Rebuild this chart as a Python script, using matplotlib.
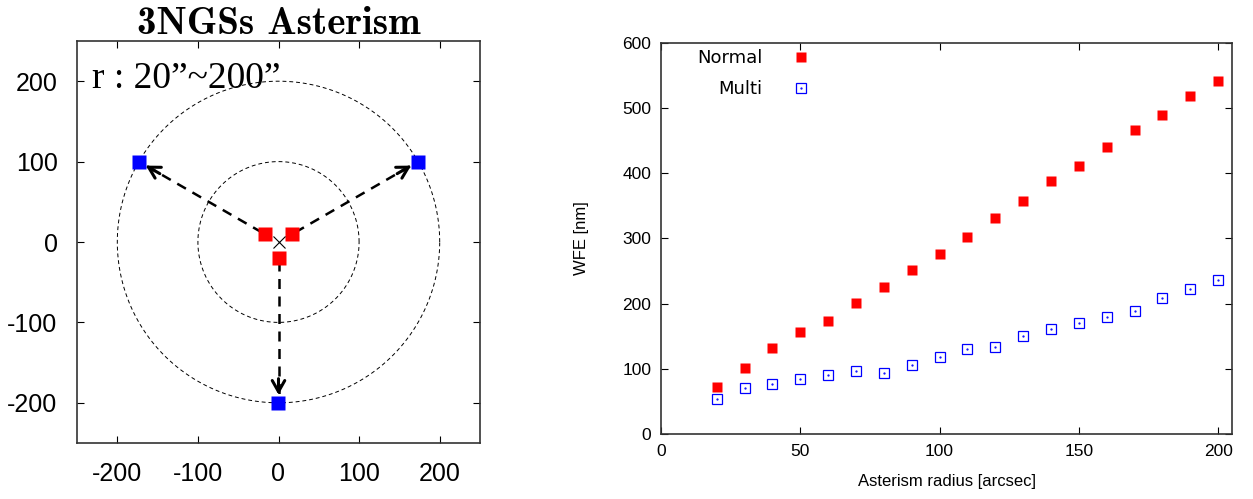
import numpy as np
import matplotlib
matplotlib.use("Agg")
import matplotlib.pyplot as plt
from matplotlib.legend_handler import HandlerTuple

plt.rcParams["font.family"] = ["Liberation Sans", "DejaVu Sans"]
plt.rcParams["axes.unicode_minus"] = False

# left panel: asterism geometry
ngs_angles = [150, 30, 270]          # deg
inner_r = 20
outer_r = 200
circle_radii = [100, 200]

# right panel: WFE vs asterism radius
radius = [20, 30, 40, 50, 60, 70, 80, 90, 100, 110, 120, 130, 140, 150,
          160, 170, 180, 190, 200]
wfe_normal = [72, 102, 132, 156, 173, 201, 225, 251, 276, 303, 332, 358,
              388, 412, 441, 467, 490, 519, 542]
wfe_multi = [54, 70, 76, 85, 90, 96, 94, 106, 118, 130, 134, 150, 161,
             171, 179, 189, 209, 222, 236]

fig = plt.figure(figsize=(12.53, 4.99), dpi=100)

# ---- left panel
ax = fig.add_axes([77 / 1253, 56 / 499, 403 / 1253, 402 / 499])
th = np.linspace(0, 2 * np.pi, 400)
for r in circle_radii:
    ax.plot(r * np.cos(th), r * np.sin(th), "--", color="k", lw=0.7,
            dashes=(4, 3))
ang = np.deg2rad(ngs_angles)
x_in, y_in = inner_r * np.cos(ang), inner_r * np.sin(ang)
x_out, y_out = outer_r * np.cos(ang), outer_r * np.sin(ang)
for xi, yi, xo, yo in zip(x_in, y_in, x_out, y_out):
    # dashed shaft, solid open head
    ax.plot([xi * 1.2, xo * 0.95], [yi * 1.2, yo * 0.95], color="k", lw=1.8,
            dashes=(4, 3))
    ax.annotate("", xy=(xo * 0.95, yo * 0.95), xytext=(xo * 0.85, yo * 0.85),
                arrowprops=dict(arrowstyle="->,head_length=0.8,head_width=0.45",
                                lw=2.2, color="k", shrinkA=0, shrinkB=0))
ax.plot(x_in, y_in, "s", color="red", ms=9.5, mec="none")
ax.plot(x_out, y_out, "s", color="blue", ms=9.5, mec="none")
ax.plot([0], [0], "x", color="k", ms=8, mew=0.8)
ax.set_xlim(-250, 250)
ax.set_ylim(-250, 250)
ax.set_xticks([-200, -100, 0, 100, 200])
ax.set_yticks([-200, -100, 0, 100, 200])
ax.tick_params(direction="in", top=True, right=True, labelsize=18, pad=14,
               length=5)
for s in ax.spines.values():
    s.set_linewidth(1.2)
    s.set_color("#333333")
ax.text(-232, 203, "r : 20”~200”", family=["Liberation Serif", "DejaVu Serif"],
        fontsize=27, va="center", ha="left")
ax.set_title("3NGSs Asterism", family="cmb10", fontsize=28, pad=5)

# ---- right panel
ax2 = fig.add_axes([661 / 1253, 65 / 499, 571 / 1253, 391 / 499])
h_norm, = ax2.plot(radius, wfe_normal, "s", color="red", ms=7.5, mec="none")
h_box, = ax2.plot(radius, wfe_multi, "s", mfc="none", mec="blue", mew=0.9,
                  ms=7.5)
h_dot, = ax2.plot(radius, wfe_multi, ".", color="blue", ms=1.2)
ax2.set_xlim(0, 205)
ax2.set_ylim(0, 600)
ax2.set_xticks([0, 50, 100, 150, 200])
ax2.set_yticks(range(0, 601, 100))
ax2.tick_params(direction="in", top=True, right=True, labelsize=12.5, pad=7,
                length=5)
for s in ax2.spines.values():
    s.set_linewidth(1.2)
    s.set_color("#333333")
ax2.set_xlabel("Asterism radius [arcsec]", fontsize=12, labelpad=11)
ax2.set_ylabel("WFE [nm]", fontsize=12, labelpad=24)
ax2.legend([h_norm, (h_box, h_dot)], ["Normal", "Multi"],
           handler_map={tuple: HandlerTuple(ndivide=1, pad=0)},
           loc="upper left", bbox_to_anchor=(0.035, 1.025), frameon=False,
           markerfirst=False, handletextpad=1.6,
           labelspacing=0.7, handlelength=1.0,
           prop={"family": "DejaVu Sans", "size": 13})

fig.savefig("out.png", dpi=100)
